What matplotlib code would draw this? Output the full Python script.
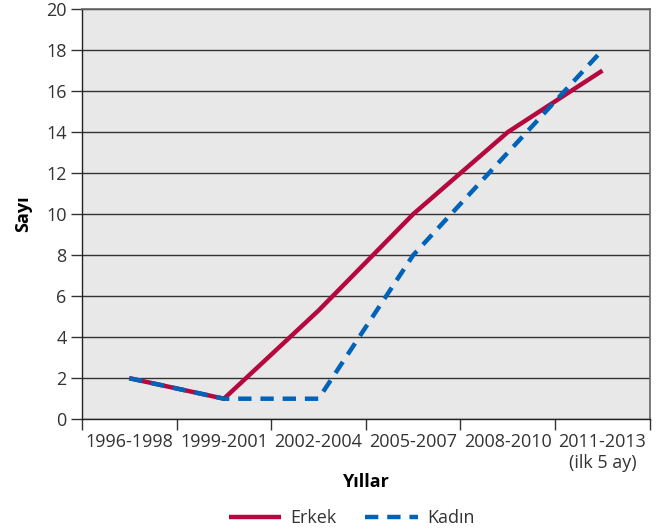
import matplotlib.pyplot as plt
import numpy as np

plt.rcParams['font.family'] = ['Open Sans', 'DejaVu Sans']

periods = ['1996-1998', '1999-2001', '2002-2004', '2005-2007', '2008-2010', '2011-2013\n(ilk 5 ay)']
erkek = [2, 1, 5.3, 10, 14, 17]
kadin = [2, 1, 1, 8, 13, 18]

x = np.arange(len(periods))

fig = plt.figure(figsize=(6.61, 5.32), dpi=100)
ax = fig.add_axes([0.124, 0.212, 0.859, 0.771])
ax.set_facecolor('#e8e8e8')

ax.plot(x, erkek, color='#b5083f', lw=3.2, solid_capstyle='butt', label='Erkek', zorder=3)
ax.plot(x, kadin, color='#0063b8', lw=3.2, dashes=(3, 2), dash_capstyle='butt', label='Kadın', zorder=4)

ax.set_ylim(0, 20)
ax.set_yticks(range(0, 21, 2))
ax.yaxis.grid(True, color='#333333', lw=1)
ax.set_axisbelow(True)
ax.tick_params(axis='y', length=8, width=1, color='#333333', labelsize=13, labelcolor='#333333', pad=3)

ax.set_xlim(-0.5, len(periods) - 0.5)
ax.set_xticks(np.arange(-0.5, len(periods)))
ax.set_xticklabels([])
ax.set_xticks(x, minor=True)
ax.set_xticklabels(periods, minor=True)
ax.tick_params(axis='x', which='major', length=8, width=1, color='#333333')
ax.tick_params(axis='x', which='minor', length=0, labelsize=13, labelcolor='#333333', pad=10)

for s in ['left', 'bottom']:
    ax.spines[s].set_color('#222222')
    ax.spines[s].set_linewidth(1)
for s in ['top', 'right']:
    ax.spines[s].set_color('#666666')
    ax.spines[s].set_linewidth(1.2)

ax.set_xlabel('Yıllar', fontsize=13, fontweight='bold', labelpad=1)
ax.set_ylabel('Sayı', fontsize=13, fontweight='bold', labelpad=10)

fig.legend(loc='lower center', bbox_to_anchor=(0.532, -0.022), ncol=2, frameon=False,
           fontsize=13, handlelength=2.9, handletextpad=0.5, columnspacing=1.6, labelcolor='#333333')

fig.savefig('out.png', dpi=100)
